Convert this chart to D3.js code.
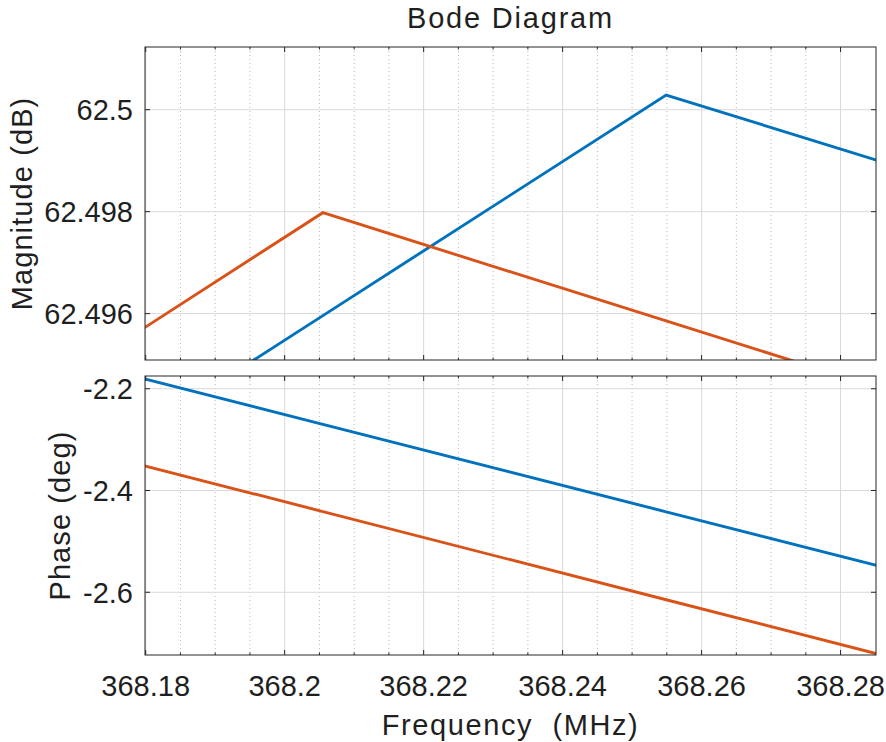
<!DOCTYPE html>
<html>
<head>
<meta charset="utf-8">
<script src="https://cdn.jsdelivr.net/npm/d3@7"></script>
<style>
  html, body { margin: 0; padding: 0; background: #fff; }
  svg { display: block; }
  text { font-family: "Liberation Sans", Arial, Helvetica, sans-serif; fill: #1f1f1f; }
</style>
</head>
<body>
<svg id="chart" width="886" height="742"></svg>
<script>
// Frequency samples (MHz) shared by both systems
const freqMHz = [368.1561, 368.2055, 368.2549, 368.3043];

// Magnitude (dB)
const magSys1 = [62.491633, 62.495961, 62.500288, 62.498201];
const magSys2 = [62.493638, 62.497980, 62.495857, 62.493735];

// Phase (deg)
const phaseSys1 = [-2.0984, -2.2701, -2.4419, -2.6136];
const phaseSys2 = [-2.2682, -2.4414, -2.6147, -2.7879];

// Axis limits and ticks
const freqLimits = [368.1799, 368.2851];
const freqTicks = [368.18, 368.2, 368.22, 368.24, 368.26, 368.28];
const freqTickLabels = ["368.18", "368.2", "368.22", "368.24", "368.26", "368.28"];
const freqMinorTicks = d3.range(0, 22).map(i => +(368.175 + i * 0.005).toFixed(3));

const magLimits = [62.49509, 62.50123];
const magTicks = [62.496, 62.498, 62.5];
const magTickLabels = ["62.496", "62.498", "62.5"];

const phaseLimits = [-2.7233, -2.175];
const phaseTicks = [-2.6, -2.4, -2.2];
const phaseTickLabels = ["-2.6", "-2.4", "-2.2"];

const seriesColors = ["#0072BD", "#D95319"];

const svg = d3.select("#chart");
const left = 145, right = 876;

const x = d3.scaleLinear().domain(freqLimits).range([left, right]);

const panels = [
  { id: "mag", top: 47, bottom: 360, limits: magLimits, ticks: magTicks, labels: magTickLabels,
    series: [magSys1, magSys2], ylabel: "Magnitude (dB)", ylabelX: 22 },
  { id: "phase", top: 376, bottom: 655, limits: phaseLimits, ticks: phaseTicks, labels: phaseTickLabels,
    series: [phaseSys1, phaseSys2], ylabel: "Phase (deg)", ylabelX: 60 }
];

const axisColor = "#262626";
const majorLen = 5, minorLen = 2.5;

panels.forEach((p, idx) => {
  const y = d3.scaleLinear().domain(p.limits).range([p.bottom, p.top]);
  const g = svg.append("g");

  g.append("clipPath").attr("id", "clip-" + p.id)
    .append("rect").attr("x", left).attr("y", p.top)
    .attr("width", right - left).attr("height", p.bottom - p.top);

  const inside = v => x(v) > left + 0.5 && x(v) < right - 0.5;
  const isMajor = v => freqTicks.some(t => Math.abs(t - v) < 1e-6);

  // minor vertical grid (dotted)
  g.selectAll(".minor").data(freqMinorTicks.filter(v => inside(v) && !isMajor(v)))
    .join("line")
    .attr("x1", d => x(d)).attr("x2", d => x(d))
    .attr("y1", p.top).attr("y2", p.bottom)
    .attr("stroke", "#b8b8b8").attr("stroke-width", 1)
    .attr("stroke-dasharray", "1,3");

  // major vertical grid
  g.selectAll(".vmajor").data(freqTicks.filter(inside))
    .join("line")
    .attr("x1", d => x(d)).attr("x2", d => x(d))
    .attr("y1", p.top).attr("y2", p.bottom)
    .attr("stroke", "#d9d9d9").attr("stroke-width", 1);

  // major horizontal grid
  g.selectAll(".hmajor").data(p.ticks)
    .join("line")
    .attr("x1", left).attr("x2", right)
    .attr("y1", d => y(d)).attr("y2", d => y(d))
    .attr("stroke", "#d9d9d9").attr("stroke-width", 1);

  // data lines
  const line = d3.line().x((d, i) => x(freqMHz[i])).y(d => y(d));
  g.append("g").attr("clip-path", `url(#clip-${p.id})`)
    .selectAll("path").data(p.series)
    .join("path")
    .attr("d", d => line(d))
    .attr("fill", "none")
    .attr("stroke", (d, i) => seriesColors[i])
    .attr("stroke-width", 2.9)
    .attr("stroke-linejoin", "miter");

  // frame
  g.append("rect").attr("x", left).attr("y", p.top)
    .attr("width", right - left).attr("height", p.bottom - p.top)
    .attr("fill", "none").attr("stroke", axisColor).attr("stroke-width", 1);

  // inward ticks: x major + minor on top and bottom edges
  const xt = [];
  freqTicks.filter(inside).forEach(v => xt.push({ v, len: majorLen }));
  freqMinorTicks.filter(v => inside(v) && !isMajor(v)).forEach(v => xt.push({ v, len: minorLen }));
  g.selectAll(".xtb").data(xt).join("line")
    .attr("x1", d => x(d.v)).attr("x2", d => x(d.v))
    .attr("y1", p.bottom).attr("y2", d => p.bottom - d.len)
    .attr("stroke", axisColor);
  g.selectAll(".xtt").data(xt).join("line")
    .attr("x1", d => x(d.v)).attr("x2", d => x(d.v))
    .attr("y1", p.top).attr("y2", d => p.top + d.len)
    .attr("stroke", axisColor);

  // y ticks on both sides
  g.selectAll(".ytl").data(p.ticks).join("line")
    .attr("x1", left).attr("x2", left + majorLen)
    .attr("y1", d => y(d)).attr("y2", d => y(d))
    .attr("stroke", axisColor);
  g.selectAll(".ytr").data(p.ticks).join("line")
    .attr("x1", right).attr("x2", right - majorLen)
    .attr("y1", d => y(d)).attr("y2", d => y(d))
    .attr("stroke", axisColor);

  // y tick labels
  g.selectAll(".ylab").data(p.ticks).join("text")
    .attr("x", left - 12).attr("y", d => y(d) + 10.5)
    .attr("text-anchor", "end")
    .attr("font-size", 29)
    .text((d, i) => p.labels[i]);

  // y axis label
  g.append("text")
    .attr("transform", `translate(${p.ylabelX + 10},${(p.top + p.bottom) / 2}) rotate(-90)`)
    .attr("text-anchor", "middle")
    .attr("font-size", 29)
    .attr("letter-spacing", 1.1)
    .text(p.ylabel);

  // x tick labels under the lower panel
  if (idx === 1) {
    g.selectAll(".xlab").data(freqTicks).join("text")
      .attr("x", d => x(d)).attr("y", 696)
      .attr("text-anchor", "middle")
      .attr("font-size", 29)
      .text((d, i) => freqTickLabels[i]);
  }
});

// title
svg.append("text")
  .attr("x", (left + right) / 2).attr("y", 28)
  .attr("text-anchor", "middle")
  .attr("font-size", 29)
  .attr("letter-spacing", 1.8)
  .text("Bode Diagram");

// x axis label
svg.append("text")
  .attr("x", (left + right) / 2).attr("y", 735)
  .attr("text-anchor", "middle")
  .attr("font-size", 29)
  .attr("letter-spacing", 1.6)
  .attr("xml:space", "preserve")
  .style("white-space", "pre")
  .text("Frequency  (MHz)");
</script>
</body>
</html>
